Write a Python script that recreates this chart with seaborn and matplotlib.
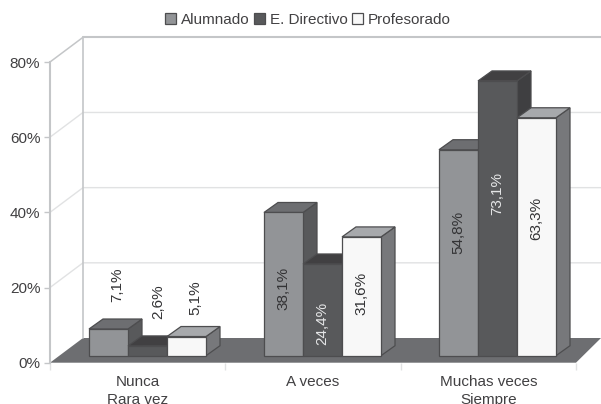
import matplotlib
matplotlib.use("Agg")
import matplotlib.pyplot as plt
import pandas as pd
import seaborn as sns
from matplotlib.patches import Polygon

categories = ["Nunca\nRara vez", "A veces", "Muchas veces\nSiempre"]
series_names = ["Alumnado", "E. Directivo", "Profesorado"]
alumnado = [7.1, 38.1, 54.8]
directivo = [2.6, 24.4, 73.1]
profesorado = [5.1, 31.6, 63.3]
y_ticks = [0, 20, 40, 60, 80]

W, H = 601, 404
TXT = "#414042"
FRONT = ["#929497", "#58595b", "#f8f8f8"]
TOP = ["#6d6e71", "#414042", "#a7a9ac"]
SIDE = ["#58595b", "#3f3f41", "#77787b"]
EDGE = "#4d4d4f"

sns.set_theme(style="white")
plt.rcParams["font.family"] = ["Liberation Sans", "DejaVu Sans"]
FS = 11.0

fig = plt.figure(figsize=(W / 100, H / 100), dpi=100)


def axes_px(x0, x1, ytop, ybot, z):
    a = fig.add_axes([x0 / W, 1 - ybot / H, (x1 - x0) / W, (ybot - ytop) / H], zorder=z)
    a.patch.set_alpha(0)
    return a


# scenery in pixel coordinates
bg = axes_px(0, W, 0, H, 0)
bg.set_xlim(0, W)
bg.set_ylim(H, 0)
bg.axis("off")
Y0, Y80 = 362.7, 62.0
BACK_DX, BACK_DY = 33, 24.7
GRID = "#e1e2e3"
WALL = "#c4c6c8"
for t in y_ticks[1:-1]:
    y = Y0 + (Y80 - Y0) * t / 80
    bg.plot([50, 50 + BACK_DX, W], [y, y - BACK_DY, y - BACK_DY], color=GRID, lw=1)
bg.plot([50, 50 + BACK_DX], [Y80, Y80 - BACK_DY], color=WALL, lw=1.1)
bg.plot([50 + BACK_DX, W], [Y80 - BACK_DY, Y80 - BACK_DY], color=WALL, lw=1.5)
bg.plot([50 + BACK_DX] * 2, [Y80 - BACK_DY, Y0 - BACK_DY], color=WALL, lw=1.2)
bg.add_patch(Polygon([(50, Y0), (576, Y0), (W, Y0 - BACK_DY), (50 + BACK_DX, Y0 - BACK_DY)],
                     closed=True, fc="#6d6e71", ec="none"))

# front plane: scales, ticks and labels
front = axes_px(50, 576, Y80, Y0, 1)
front.set_xlim(-0.5, 2.5)
front.set_ylim(0, 80)
front.set_yticks(y_ticks, [f"{t}%" for t in y_ticks], color=TXT, fontsize=FS)
front.set_xticks([-0.5, 0.5, 1.5, 2.5])
front.set_xticklabels([])
front.set_xticks([0, 1, 2], categories, minor=True, color=TXT, fontsize=FS, linespacing=1.42)
front.tick_params(axis="y", length=4, width=1, color=WALL, pad=3, left=True)
front.tick_params(axis="x", which="major", length=5, width=1, color="#e1e2e3", bottom=True)
front.tick_params(axis="x", which="minor", length=0, pad=8.5)
for s in ["top", "right", "bottom"]:
    front.spines[s].set_visible(False)
front.spines["left"].set_color(WALL)
front.spines["left"].set_linewidth(1.5)

# bars
BAR_BASE = 355.7
PX = (Y0 - Y80) / 80
df = pd.DataFrame({
    "cat": categories * 3,
    "serie": [n for n in series_names for _ in categories],
    "val": alumnado + directivo + profesorado,
})
ax = axes_px(60, 585, BAR_BASE - 80 * PX, BAR_BASE, 2)
sns.barplot(data=df, x="cat", y="val", hue="serie", order=categories, hue_order=series_names,
            palette=FRONT, width=0.6686, gap=0, saturation=1, edgecolor=EDGE, linewidth=0.9,
            legend=True, ax=ax, clip_on=False)
ax.set_xlim(-0.5, 2.5)
ax.set_ylim(0, 80)
ax.axis("off")
handles, labels = ax.get_legend_handles_labels()
ax.get_legend().remove()

# 3D sides, derived from each bar
DX, DY = 14, 10
u_x = DX * 3 / 525
u_y = DY / PX
bars = sorted([p for p in ax.patches if p.get_height() > 0], key=lambda p: p.get_x())
for i, b in enumerate(bars):
    s = i % 3
    x0, w, h = b.get_x(), b.get_width(), b.get_height()
    x1 = x0 + w
    ax.add_patch(Polygon([(x1, 0), (x1 + u_x, u_y), (x1 + u_x, h + u_y), (x1, h)], closed=True,
                         fc=SIDE[s], ec=EDGE, lw=0.9, zorder=3 + i, clip_on=False))
    ax.add_patch(Polygon([(x0, h), (x0 + u_x, h + u_y), (x1 + u_x, h + u_y), (x1, h)], closed=True,
                         fc=TOP[s], ec=EDGE, lw=0.9, zorder=3 + i, clip_on=False))
    b.set_zorder(3.5 + i)

# value labels: pixel offset of the label centre from the bar top centre
label_dy = {
    (0, 0): 44, (0, 1): 44, (0, 2): 39,
    (1, 0): -76, (1, 1): -59, (1, 2): -57,
    (2, 0): -83, (2, 1): -113, (2, 2): -101,
}
label_dx = {(0, 0): 9, (0, 1): 11, (0, 2): 9}
values = [alumnado, directivo, profesorado]
for c in range(3):
    for s in range(3):
        v = values[s][c]
        b = bars[c * 3 + s]
        inside_dark = s == 1 and c > 0
        ax.annotate(f"{v:.1f}%".replace(".", ","),
                    (b.get_x() + b.get_width() / 2, v),
                    xytext=(label_dx.get((c, s), 0) * 0.72, label_dy[(c, s)] * 0.72),
                    textcoords="offset points", rotation=90, ha="center", va="center",
                    color="#e6e7e8" if inside_dark else "#333335",
                    fontsize=FS, zorder=50, annotation_clip=False)

fig.legend(handles, labels, loc="center", bbox_to_anchor=(308 / W, 1 - 20 / H), ncol=3, frameon=False,
           fontsize=FS, handlelength=0.7, handleheight=0.7, handletextpad=0.3, columnspacing=0.33,
           labelcolor=TXT, borderpad=0)

fig.savefig("out.png", dpi=100)
